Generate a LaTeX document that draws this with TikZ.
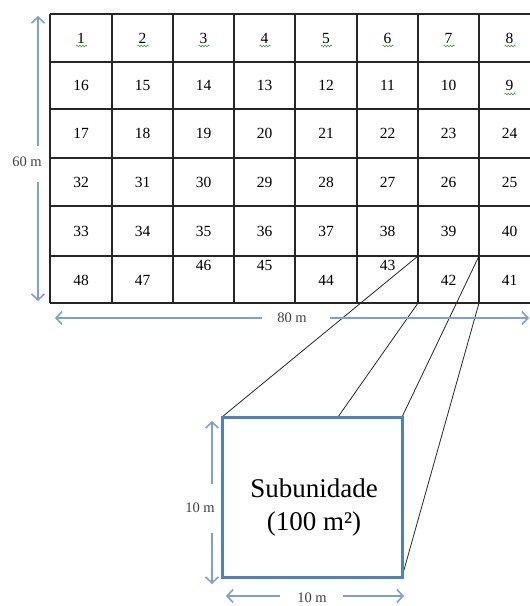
\documentclass[tikz,border=0pt]{standalone}
\usepackage{fontspec}
\setmainfont{Liberation Serif}
\usetikzlibrary{arrows.meta,decorations.pathmorphing}
\definecolor{dimblue}{RGB}{125,160,210}
\definecolor{boxblue}{RGB}{79,129,189}
\definecolor{spellgreen}{RGB}{60,160,60}
\tikzset{
 gridline/.style={line width=1.2pt, draw=black!85},
 numlab/.style={font=\fontsize{15.5}{17}\selectfont, inner sep=0pt},
 dimlab/.style={font=\fontsize{14.5}{16}\selectfont, text=black!75, inner sep=0pt},
 dimarrow/.style={draw=dimblue, line width=1.6pt, -{Straight Barb[length=6pt,width=13pt]}},
 zoomline/.style={draw=black!85, line width=0.8pt},
 squiggle/.style={draw=spellgreen, line width=0.6pt, decorate, decoration={snake, amplitude=0.9pt, segment length=3pt}},
 subbox/.style={draw=boxblue, line width=3pt, minimum width=180pt, minimum height=160pt, inner sep=0pt, outer sep=0pt},
}
\begin{document}
\begin{tikzpicture}[x=1pt,y=-1pt]
\useasboundingbox (0,0) rectangle (530,606);
\clip (0,0) rectangle (530,606);
% grid
\foreach \x in {50,112,173,234,295,357,418,479,540} \draw[gridline] (\x,14) -- (\x,303);
\foreach \y in {14,62,109,158,206,256,303} \draw[gridline] (50,\y) -- (540,\y);
% numbers
\foreach \n/\x/\y in {1/81/38,2/142.5/38,3/203.5/38,4/264.5/38,5/326/38,6/387.5/38,7/448.5/38,8/509.5/38,
 16/81/85.5,15/142.5/85.5,14/203.5/85.5,13/264.5/85.5,12/326/85.5,11/387.5/85.5,10/448.5/85.5,9/509.5/85.5,
 17/81/133.5,18/142.5/133.5,19/203.5/133.5,20/264.5/133.5,21/326/133.5,22/387.5/133.5,23/448.5/133.5,24/509.5/133.5,
 32/81/182,31/142.5/182,30/203.5/182,29/264.5/182,28/326/182,27/387.5/182,26/448.5/182,25/509.5/182,
 33/81/231,34/142.5/231,35/203.5/231,36/264.5/231,37/326/231,38/387.5/231,39/448.5/231,40/509.5/231,
 48/81/280,47/142.5/280,46/203.5/265,45/264.5/265,44/326/280,43/387.5/265,42/448.5/280,41/509.5/280}
 \node[numlab] (n\n) at (\x,\y) {\n};
% spell-check squiggles
\foreach \x in {81,142.5,203.5,264.5,326,387.5,448.5,509.5} \draw[squiggle] ({\x-5},46) -- ({\x+6},46);
\draw[squiggle] (504.5,94) -- (515.5,94);
% zoom lines
\coordinate (c1) at (418,256);
\coordinate (c2) at (418,303);
\coordinate (c3) at (479,256);
\coordinate (c4) at (479,303);
\coordinate (s2) at (338,417);
\node[subbox] (sub) at (312,497) {};
\draw[zoomline] (c1) -- (sub.north west);
\draw[zoomline] (c2) -- (s2);
\draw[zoomline] (c3) -- (sub.north east);
\draw[zoomline] (c4) -- (sub.south east);
\node[subbox] (subtop) at (312,497) {};
\node[font=\fontsize{27}{33}\selectfont, align=center] (subtxt) at (314,507) {Subunidade\\(100 m²)};
% dimension 60 m
\node[dimlab] (l60) at (27,162) {60 m};
\coordinate (v60a) at (38,146); \coordinate (v60t) at (38,16);
\coordinate (v60b) at (38,182); \coordinate (v60d) at (38,301);
\draw[dimarrow] (v60a) -- (v60t);
\draw[dimarrow] (v60b) -- (v60d);
% dimension 80 m
\node[dimlab] (l80) at (292,318) {80 m};
\coordinate (h80a) at (262,318); \coordinate (h80l) at (55,318);
\coordinate (h80b) at (330,318); \coordinate (h80r) at (529,318);
\draw[dimarrow] (h80a) -- (h80l);
\draw[dimarrow] (h80b) -- (h80r);
% dimension 10 m vertical
\node[dimlab] (l10v) at (200,508) {10 m};
\coordinate (v10a) at (212,484); \coordinate (v10t) at (212,421);
\coordinate (v10b) at (212,533); \coordinate (v10d) at (212,584);
\draw[dimarrow] (v10a) -- (v10t);
\draw[dimarrow] (v10b) -- (v10d);
% dimension 10 m horizontal
\node[dimlab] (l10h) at (312,598) {10 m};
\coordinate (h10a) at (280,596); \coordinate (h10l) at (226,596);
\coordinate (h10b) at (343,596); \coordinate (h10r) at (404,596);
\draw[dimarrow] (h10a) -- (h10l);
\draw[dimarrow] (h10b) -- (h10r);
\end{tikzpicture}
\end{document}
